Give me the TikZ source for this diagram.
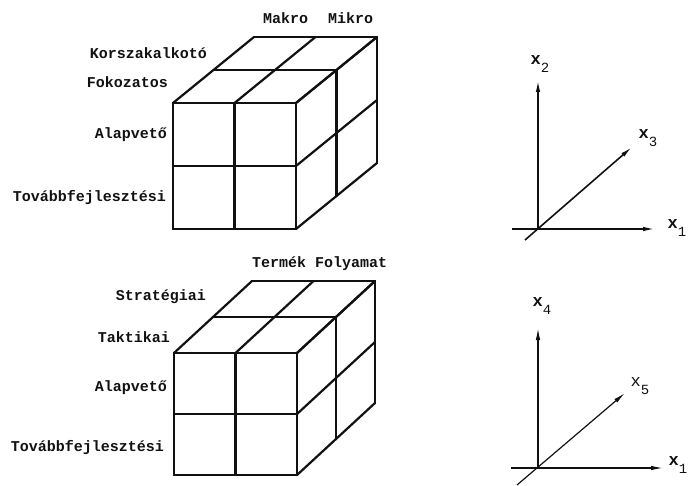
\documentclass[tikz,border=0pt]{standalone}
\usepackage{fontspec}
\setmonofont{Liberation Mono}
\usepackage{xcolor}
\definecolor{cInk}{HTML}{111111}
\usepackage{tikz}
\usetikzlibrary{positioning,arrows.meta,calc}
\newcommand{\axsub}[1]{\raisebox{-0.45em}{\mdseries\fontsize{14}{14}\selectfont #1}}
\tikzset{
  cube-line/.style={draw=cInk,line width=2.2pt,line cap=round,line join=round},
  axis-line/.style={draw=cInk,line width=1.6pt},
  axis-arrow/.style={-{Latex[length=12pt,width=4.5pt]},axis-line},
  node-label/.style={inner sep=0pt,text=cInk,
    font=\ttfamily\bfseries\fontsize{15}{18}\selectfont},
  node-axis/.style={inner sep=0pt,text=cInk,
    font=\ttfamily\bfseries\fontsize{17}{18}\selectfont},
}

\begin{document}
\begin{tikzpicture}[x=1pt,y=-1pt]
  \useasboundingbox (0,0) rectangle (688,486);

  % two 2x2x2 cubes: corner / width / height / depth
  \foreach \cx/\cy/\w/\h/\dx/\dy in {173/103/123/126/81/66,174/353/123/122/78/72}{
    \begin{scope}[shift={(\cx,\cy)}]
      \foreach \t in {0,0.5,1}{
        \draw[cube-line] (\t*\w,0) -- (\t*\w,\h);
        \draw[cube-line] (0,\t*\h) -- (\w,\t*\h);
        \draw[cube-line] (\t*\w,0) -- ++(\dx,-\dy);
        \draw[cube-line] (\t*\dx,-\t*\dy) -- ++(\w,0);
        \draw[cube-line] (\w,\t*\h) -- ++(\dx,-\dy);
        \draw[cube-line] (\w+\t*\dx,-\t*\dy) -- ++(0,\h);
      }
    \end{scope}
  }

  \node[node-label,anchor=west] (makro) at (263,18) {Makro};
  \node[node-label,anchor=west] (mikro) at (328,18) {Mikro};
  \node[node-label,anchor=east] (korszak) at (207,53) {Korszakalkotó};
  \node[node-label,anchor=east] (fokoz) at (168,82) {Fokozatos};
  \node[node-label,anchor=east] (alap-a) at (167,135) {Alapvető};
  \node[node-label,anchor=east] (tovabb-a) at (166,198) {Továbbfejlesztési};

  \node[node-label,anchor=west] (termek) at (252,264) {Termék Folyamat};
  \node[node-label,anchor=east] (strat) at (206,297) {Stratégiai};
  \node[node-label,anchor=east] (takt) at (170,337) {Taktikai};
  \node[node-label,anchor=east] (alap-b) at (167,388) {Alapvető};
  \node[node-label,anchor=east] (tovabb-b) at (164,448) {Továbbfejlesztési};

  % upper axes
  \coordinate (o-a) at (538,229);
  \coordinate (x2-tip) at (538,80);
  \coordinate (x1a-from) at (512,229);
  \coordinate (x1a-tip) at (655,229);
  \coordinate (x3-from) at (525,240);
  \coordinate (x3-tip) at (632,147);
  \draw[axis-arrow] (o-a) -- (x2-tip);
  \draw[axis-arrow] (x1a-from) -- (x1a-tip);
  \draw[axis-arrow] (x3-from) -- (x3-tip);
  \node[node-axis] (lbl-x2) at (540,64) {x\axsub{2}};
  \node[node-axis] (lbl-x3) at (648,138) {x\axsub{3}};
  \node[node-axis] (lbl-x1a) at (677,228) {x\axsub{1}};

  % lower axes
  \coordinate (o-b) at (538,468);
  \coordinate (x4-tip) at (538,328);
  \coordinate (x1b-from) at (511,468);
  \coordinate (x1b-tip) at (663,468);
  \coordinate (x5-from) at (517,485);
  \coordinate (x5-tip) at (625,393);
  \draw[axis-arrow,line width=1.2pt] (o-b) -- (x4-tip);
  \draw[axis-arrow,line width=1.2pt] (x1b-from) -- (x1b-tip);
  \draw[axis-arrow,line width=1.2pt] (x5-from) -- (x5-tip);
  \node[node-axis] (lbl-x4) at (542,306) {x\axsub{4}};
  \node[node-axis,font=\ttfamily\fontsize{17}{18}\selectfont] (lbl-x5) at (640,386) {x\axsub{5}};
  \node[node-axis] (lbl-x1b) at (678,465) {x\axsub{1}};
\end{tikzpicture}
\end{document}
